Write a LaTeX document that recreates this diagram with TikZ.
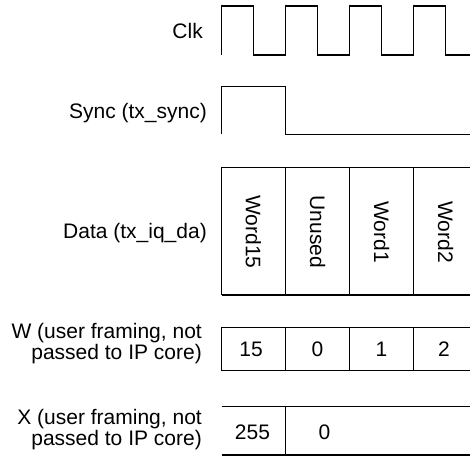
\documentclass[tikz,border=0pt]{standalone}
\usepackage{fontspec}
\setmainfont{Liberation Sans}
\begin{document}
\begin{tikzpicture}[x=1pt,y=-1pt,
  wave/.style={line width=1.1pt,line join=miter},
  lbl/.style={inner sep=0pt,anchor=base east,align=right,font=\fontsize{21}{19.5}\selectfont},
  num/.style={inner sep=0pt,anchor=base,font=\fontsize{21}{19.5}\selectfont},
  word/.style={inner sep=0pt,rotate=-90,font=\fontsize{21}{19.5}\selectfont}]
\useasboundingbox (0,0) rectangle (470,457);
% labels
\node[lbl] (lclk) at (203,38.3) {Clk};
\node[lbl] (lsync) at (207,118.3) {Sync (tx\_sync)};
\node[lbl] (ldata) at (207,238.3) {Data (tx\_iq\_da)};
\node[lbl] (lw) at (202,359.3) {W (user framing, not\\passed to IP core)};
\node[lbl] (lx) at (202,445) {X (user framing, not\\passed to IP core)};
% clock
\draw[wave] (221.5,55) -- (221.5,6) -- (253.5,6) -- (253.5,55) -- (285.5,55) -- (285.5,6) -- (317.5,6) -- (317.5,55)
  -- (349.5,55) -- (349.5,6) -- (381.5,6) -- (381.5,55) -- (413.5,55) -- (413.5,6) -- (445.5,6) -- (445.5,55) -- (470,55);
% sync
\draw[wave] (221.5,134.3) -- (221.5,86.3) -- (285.5,86.3) -- (285.5,134.3) -- (470,134.3);
% data
\draw[wave] (221.5,167.3) -- (470,167.3) (221.5,295) -- (470,295);
\foreach \x in {221.5,285.5,349.5,413.5} \draw[wave] (\x,167.3) -- (\x,295);
\node[word] (d1) at (253.5,232) {Word15};
\node[word] (d2) at (317.5,232) {Unused};
\node[word] (d3) at (381.5,232) {Word1};
\node[word] (d4) at (445.5,232) {Word2};
% W
\draw[wave] (221.5,327.3) -- (470,327.3) (221.5,370.7) -- (470,370.7);
\foreach \x in {221.5,285.5,349.5,413.5} \draw[wave] (\x,327.3) -- (\x,370.7);
\node[num] (w1) at (251,356.7) {15};
\node[num] (w2) at (317.5,356.7) {0};
\node[num] (w3) at (381.5,356.7) {1};
\node[num] (w4) at (444,356.7) {2};
% X
\draw[wave] (221.5,406.7) -- (470,406.7) (221.5,455) -- (470,455);
\draw[wave] (285.5,406.7) -- (285.5,455);
\node[num] (x1) at (252.5,439) {255};
\node[num] (x2) at (324.5,439) {0};
\end{tikzpicture}
\end{document}
